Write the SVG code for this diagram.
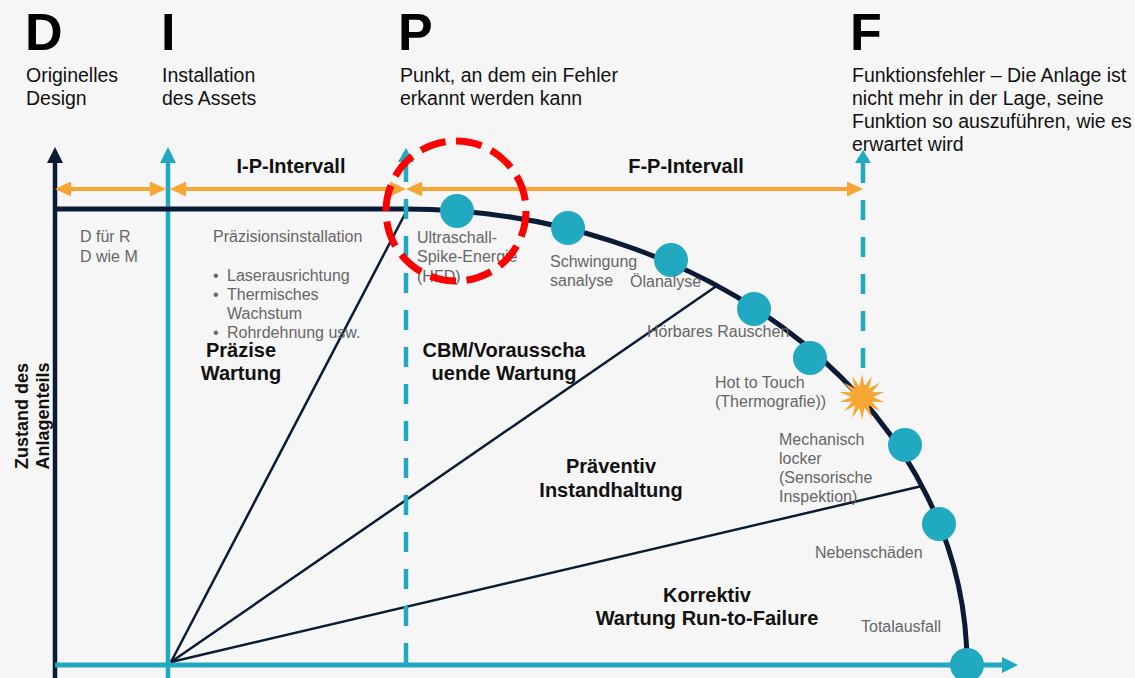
<svg xmlns="http://www.w3.org/2000/svg" width="1135" height="678" viewBox="0 0 1135 678">
<defs>
<style>
text{font-family:"Liberation Sans",Arial,sans-serif;}
.big{font-size:52px;font-weight:bold;fill:#000;}
.desc{font-size:19.5px;fill:#111;}
.bold{font-size:20px;font-weight:bold;fill:#111;text-anchor:middle;}
.gray{font-size:16px;fill:#666;}
.navy{stroke:#0b1b35;fill:none;}
.teal{stroke:#20a9c1;fill:none;}
.orange{stroke:#f7a533;stroke-width:4;fill:none;marker-start:url(#ao);marker-end:url(#ao);}
.dash{stroke:#20a9c1;stroke-width:4.5;stroke-dasharray:20 17;fill:none;}
.dot{fill:#20a9c1;}
</style>
<marker id="ao" markerUnits="userSpaceOnUse" markerWidth="16" markerHeight="15" refX="0" refY="7.5" orient="auto-start-reverse"><path d="M0,0 L16,7.5 L0,15 z" fill="#f7a533"/></marker>
<marker id="an" markerUnits="userSpaceOnUse" markerWidth="16" markerHeight="16" refX="0" refY="8" orient="auto"><path d="M0,0 L16,8 L0,16 z" fill="#0b1b35"/></marker>
<marker id="at" markerUnits="userSpaceOnUse" markerWidth="16" markerHeight="16" refX="0" refY="8" orient="auto"><path d="M0,0 L16,8 L0,16 z" fill="#20a9c1"/></marker>
</defs>
<rect x="0" y="0" width="1135" height="678" fill="#f6f6f6"/>

<g id="connectors">
<line class="navy" x1="55" y1="678" x2="55" y2="163" stroke-width="4.5" marker-end="url(#an)"/>
<line class="teal" x1="168" y1="678" x2="168" y2="163" stroke-width="4.5" marker-end="url(#at)"/>
<line class="teal" x1="55" y1="665" x2="1002" y2="665" stroke-width="5" marker-end="url(#at)"/>
<line class="orange" x1="71" y1="189" x2="150" y2="189"/>
<line class="orange" x1="186" y1="189" x2="390" y2="189"/>
<line class="orange" x1="422" y1="189" x2="847" y2="189"/>
<line class="navy" x1="171" y1="662" x2="406" y2="212" stroke-width="2.5"/>
<line class="navy" x1="171" y1="662" x2="718" y2="285" stroke-width="2.5"/>
<line class="navy" x1="171" y1="662" x2="922" y2="486" stroke-width="2.5"/>
<path class="navy" d="M55,209 L405,209 A562,456 0 0 1 967,665" stroke-width="5"/>
<line class="dash" x1="406" y1="162" x2="406" y2="665" stroke-dasharray="56 12 20 17 20 17 20 17 20 17 20 17 20 17 20 17 20 17 20 17 20 17 20 17 20 17 20 17"/>
<polygon points="398,162 406,148 414,162" fill="#20a9c1"/>
<line class="dash" x1="863" y1="163" x2="863" y2="387"/>
<polygon points="855,163 863,150 871,163" fill="#20a9c1"/>
</g>

<g id="node-D">
<text class="big" x="25" y="50">D</text>
<text class="desc" x="26" y="82">Originelles</text>
<text class="desc" x="26" y="105">Design</text>
</g>
<g id="node-I">
<text class="big" x="161" y="50">I</text>
<text class="desc" x="162" y="82">Installation</text>
<text class="desc" x="162" y="105">des Assets</text>
</g>
<g id="node-P">
<text class="big" x="398" y="50">P</text>
<text class="desc" x="400" y="82">Punkt, an dem ein Fehler</text>
<text class="desc" x="400" y="105">erkannt werden kann</text>
</g>
<g id="node-F">
<text class="big" x="850" y="50">F</text>
<text class="desc" x="852" y="82">Funktionsfehler – Die Anlage ist</text>
<text class="desc" x="852" y="105">nicht mehr in der Lage, seine</text>
<text class="desc" x="852" y="128">Funktion so auszuführen, wie es</text>
<text class="desc" x="852" y="151">erwartet wird</text>
</g>

<g id="intervals">
<text class="bold" x="291" y="173">I-P-Intervall</text>
<text class="bold" x="686" y="173">F-P-Intervall</text>
</g>

<g id="y-axis-label">
<text class="bold" transform="translate(28,416) rotate(-90)" style="font-size:18px">Zustand des</text>
<text class="bold" transform="translate(49,416) rotate(-90)" style="font-size:18px">Anlagenteils</text>
</g>

<g id="node-design-notes">
<text class="gray" x="80" y="242">D für R</text>
<text class="gray" x="80" y="262">D wie M</text>
</g>
<g id="node-installation-notes">
<text class="gray" x="213" y="242">Präzisionsinstallation</text>
<text class="gray" x="213" y="281">•</text><text class="gray" x="227" y="281">Laserausrichtung</text>
<text class="gray" x="213" y="300">•</text><text class="gray" x="227" y="300">Thermisches</text>
<text class="gray" x="227" y="319">Wachstum</text>
<text class="gray" x="213" y="338">•</text><text class="gray" x="227" y="338">Rohrdehnung usw.</text>
</g>

<g id="zone-precise">
<text class="bold" x="241" y="357">Präzise</text>
<text class="bold" x="241" y="380">Wartung</text>
</g>
<g id="zone-cbm">
<text class="bold" x="504" y="357">CBM/Vorausscha</text>
<text class="bold" x="504" y="380">uende Wartung</text>
</g>
<g id="zone-preventive">
<text class="bold" x="611" y="473">Präventiv</text>
<text class="bold" x="611" y="497">Instandhaltung</text>
</g>
<g id="zone-corrective">
<text class="bold" x="707" y="602">Korrektiv</text>
<text class="bold" x="707" y="625">Wartung Run-to-Failure</text>
</g>

<g id="node-ultraschall">
<circle class="dot" cx="457" cy="211" r="17"/>
<text class="gray" x="417" y="243">Ultraschall-</text>
<text class="gray" x="417" y="262">Spike-Energie</text>
<text class="gray" x="417" y="282">(HFD)</text>
</g>
<g id="node-schwingung">
<circle class="dot" cx="568" cy="228" r="17"/>
<text class="gray" x="550" y="267">Schwingung</text>
<text class="gray" x="550" y="286">sanalyse</text>
</g>
<g id="node-oelanalyse">
<circle class="dot" cx="671" cy="260" r="17"/>
<text class="gray" x="630" y="287">Ölanalyse</text>
</g>
<g id="node-rauschen">
<circle class="dot" cx="754" cy="309" r="17"/>
<text class="gray" x="647" y="337">Hörbares Rauschen</text>
</g>
<g id="node-hot">
<circle class="dot" cx="810" cy="358" r="17"/>
<text class="gray" x="715" y="388">Hot to Touch</text>
<text class="gray" x="715" y="407">(Thermografie))</text>
</g>
<g id="node-failure-star">
<polygon fill="#f7a533" points="862,374 864.45,386.28 871.98,376.28 868.86,388.4 879.98,382.66 871.91,392.23 884.42,391.88 873,397 884.42,402.12 871.91,401.77 879.98,411.34 868.86,405.6 871.98,417.72 864.45,407.72 862,420 859.55,407.72 852.02,417.72 855.14,405.6 844.02,411.34 852.09,401.77 839.58,402.12 851,397 839.58,391.88 852.09,392.23 844.02,382.66 855.14,388.4 852.02,376.28 859.55,386.28"/>
</g>
<g id="node-mechanisch">
<circle class="dot" cx="905" cy="445" r="17"/>
<text class="gray" x="779" y="445">Mechanisch</text>
<text class="gray" x="779" y="464">locker</text>
<text class="gray" x="779" y="483">(Sensorische</text>
<text class="gray" x="779" y="502">Inspektion)</text>
</g>
<g id="node-nebenschaeden">
<circle class="dot" cx="939" cy="524" r="17"/>
<text class="gray" x="815" y="558">Nebenschäden</text>
</g>
<g id="node-totalausfall">
<circle class="dot" cx="967" cy="665" r="17"/>
<text class="gray" x="861" y="632">Totalausfall</text>
</g>

<g id="highlight">
<circle cx="456" cy="211" r="70" fill="none" stroke="#ff0000" stroke-width="7" stroke-dasharray="26 10.6"/>
</g>
</svg>
